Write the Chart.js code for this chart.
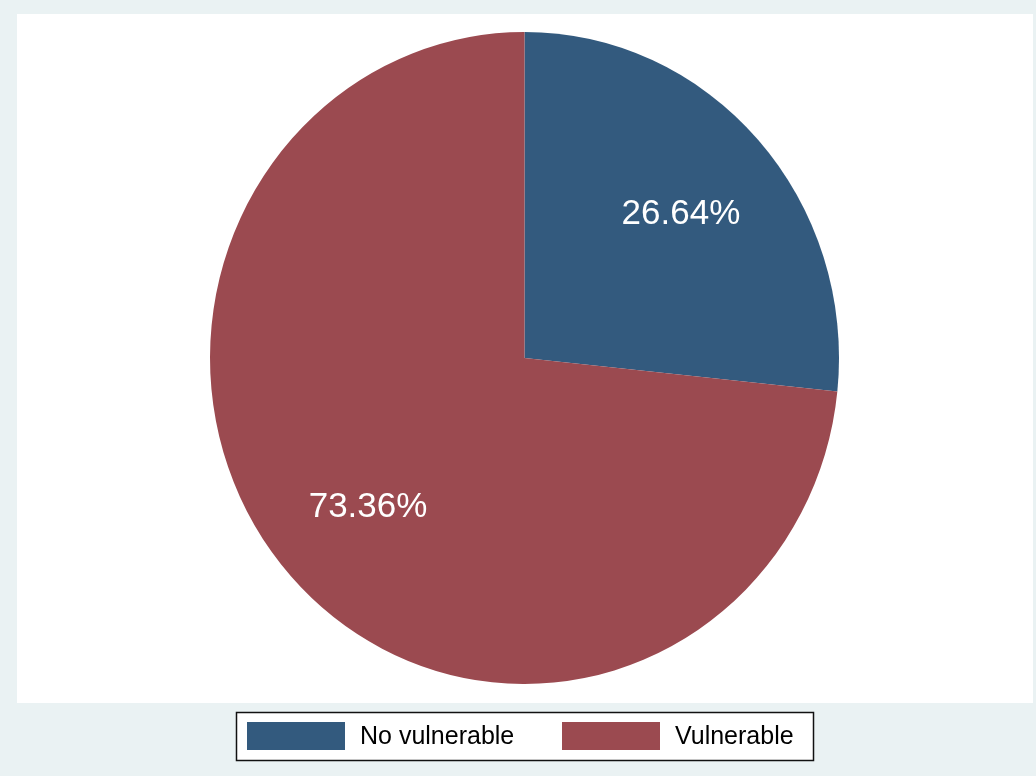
<!DOCTYPE html>
<html>
<head>
<meta charset="utf-8">
<script src="https://cdn.jsdelivr.net/npm/chart.js@4/dist/chart.umd.min.js"></script>
<style>
  html, body { margin: 0; padding: 0; background: #eaf2f3; }
  #wrap { width: 1036px; height: 776px; position: relative; }
</style>
</head>
<body>
<div id="wrap"><canvas id="c" width="1036" height="776"></canvas></div>
<script>
// Share of households by vulnerability status
const categories = ['No vulnerable', 'Vulnerable'];
const shares = [26.64, 73.36];
const sliceColors = ['#335a7e', '#9b4a50'];

const FONT = '"Liberation Sans", Arial, sans-serif';
const ySquash = 1.0366; // vertical stretch of the pie (plot region aspect)

// Page background, white plot region and bordered legend
const frame = {
  id: 'frame',
  beforeDraw(chart) {
    const ctx = chart.ctx;
    ctx.save();
    ctx.fillStyle = '#eaf2f3';
    ctx.fillRect(0, 0, chart.width, chart.height);
    ctx.fillStyle = '#ffffff';
    ctx.fillRect(17, 14, 1016, 689);
    ctx.restore();
  },
  beforeDatasetsDraw(chart) {
    const a = chart.getDatasetMeta(0).data[0];
    const ctx = chart.ctx;
    ctx.save();
    ctx.translate(a.x, a.y);
    ctx.scale(1, ySquash);
    ctx.translate(-a.x, -a.y);
  },
  afterDatasetsDraw(chart) {
    const ctx = chart.ctx;
    ctx.restore();
    // percentage labels inside slices
    const meta = chart.getDatasetMeta(0);
    ctx.save();
    ctx.fillStyle = '#ffffff';
    ctx.font = '35px ' + FONT;
    ctx.textAlign = 'center';
    ctx.textBaseline = 'middle';
    meta.data.forEach((arc, i) => {
      const p = arc.getProps(['x', 'y', 'startAngle', 'endAngle', 'outerRadius'], true);
      const mid = (p.startAngle + p.endAngle) / 2;
      const r = p.outerRadius * 0.67;
      const x = p.x + Math.cos(mid) * r;
      const y = p.y + Math.sin(mid) * r * ySquash + 3;
      ctx.fillText(shares[i].toFixed(2) + '%', x, y);
    });
    ctx.restore();

    // legend
    ctx.save();
    ctx.fillStyle = '#ffffff';
    ctx.fillRect(236, 712, 578, 49);
    ctx.strokeStyle = '#111111';
    ctx.lineWidth = 1.5;
    ctx.strokeRect(236.5, 712.5, 577, 48);
    const swatchX = [247, 562];
    ctx.font = '25px ' + FONT;
    ctx.textBaseline = 'middle';
    ctx.textAlign = 'left';
    categories.forEach((name, i) => {
      ctx.fillStyle = sliceColors[i];
      ctx.fillRect(swatchX[i], 722, 98, 28);
      ctx.fillStyle = '#000000';
      ctx.fillText(name, swatchX[i] + 113, 737);
    });
    ctx.restore();
  }
};

new Chart(document.getElementById('c'), {
  type: 'pie',
  data: {
    labels: categories,
    datasets: [{
      data: shares,
      backgroundColor: sliceColors,
      borderWidth: 0
    }]
  },
  options: {
    responsive: false,
    animation: false,
    layout: { padding: { left: 210, right: 197, top: 43.5, bottom: 103.5 } },
    plugins: {
      legend: { display: false },
      tooltip: { enabled: false }
    }
  },
  plugins: [frame]
});
</script>
</body>
</html>
